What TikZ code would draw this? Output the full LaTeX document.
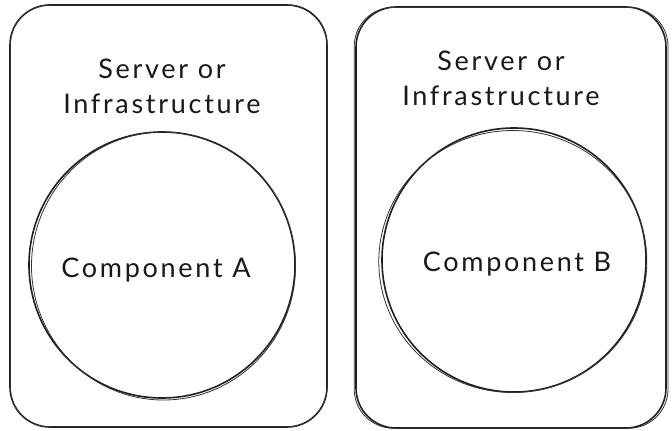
\documentclass[tikz,border=0pt]{standalone}
\usepackage{fontspec}
\setmainfont{Lato}[LetterSpace=10]
\begin{document}
\begin{tikzpicture}[x=1pt,y=-1pt,
  frame/.style={draw=black!88, line width=1.6pt, rounded corners=40pt, inner sep=0pt},
  bubble/.style={draw=black!88, line width=1.6pt, circle, inner sep=0pt},
  retrace/.style={draw=black!80, line width=0.8pt},
  label/.style={font=\fontsize{27}{35}\selectfont, align=center, text=black!90, inner sep=0pt}]
\useasboundingbox (0,0) rectangle (672,431);
\fill[white] (0,0) rectangle (672,431);

% server frames
\node[frame, minimum width=317pt, minimum height=422pt] (srvA) at (168.5,216) {};
\node[frame, minimum width=310pt, minimum height=421pt] (srvB) at (511,217.5) {};
\draw[retrace, rounded corners=39pt] ([shift={(1.2,0.8)}]srvA.north west) rectangle ([shift={(-0.8,-1)}]srvA.south east);
\draw[retrace, rounded corners=39pt] ([shift={(-1,1.2)}]srvB.north west) rectangle ([shift={(1.2,-0.6)}]srvB.south east);

% component circles
\node[bubble, minimum size=266pt] (compA) at (162,265) {};
\node[bubble, minimum size=264pt] (compB) at (514,260) {};
\draw[retrace] ([shift={(1.5,1)}]compA.center) ellipse[x radius=132pt, y radius=134pt];
\draw[retrace] ([shift={(-1.2,1.5)}]compB.center) ellipse[x radius=134pt, y radius=131pt];

% labels
\node[label] (titleA) at (162,86) {Server or\\Infrastructure};
\node[label] (titleB) at (501,78) {Server or\\Infrastructure};
\node[label] (nameA) at (156,270) {Component A};
\node[label] (nameB) at (517,264) {Component B};
\end{tikzpicture}
\end{document}
